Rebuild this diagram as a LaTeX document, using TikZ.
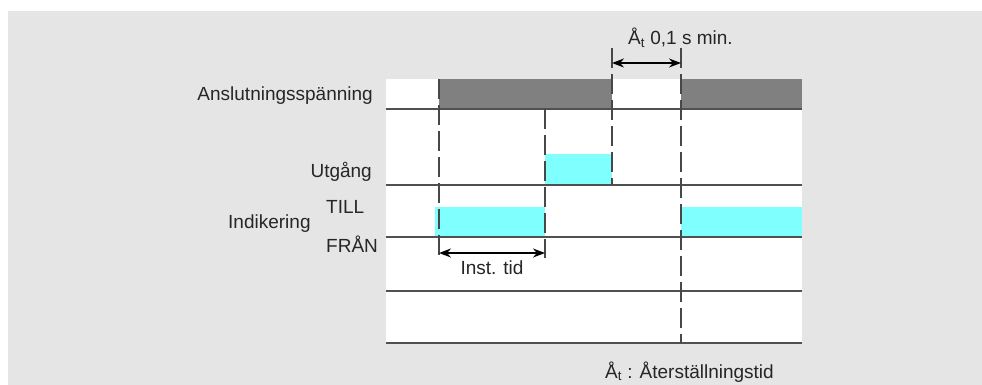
\documentclass[tikz,border=0pt]{standalone}
\usepackage{fontspec}
\setmainfont{Liberation Sans}
\usetikzlibrary{arrows.meta}
\definecolor{bggray}{HTML}{E5E5E5}
\definecolor{bargray}{HTML}{808080}
\definecolor{cyanfill}{HTML}{80FFFF}
\definecolor{linegray}{HTML}{505050}
\tikzset{
  lbl/.style={inner sep=0pt, font=\fontsize{19}{22}\selectfont, text=black!85},
  hline/.style={draw=linegray, line width=2pt},
  vdash/.style={draw=linegray!90!black, line width=2pt, dash pattern=on 20pt off 6pt},
  dimarrow/.style={draw=black, line width=1.6pt, {Stealth[length=12pt,width=9pt]}-{Stealth[length=12pt,width=9pt]}},
  ticksolid/.style={draw=linegray, line width=2pt}
}
\begin{document}
\begin{tikzpicture}[x=1pt,y=-1pt]
\useasboundingbox (0,0) rectangle (982,385);
% background
\fill[white] (0,0) rectangle (982,385);
\fill[bggray] (8,11) rectangle (982,385);
% white panel
\fill[white] (386,79) rectangle (802,343);
% dark bars (Anslutningsspänning)
\fill[bargray] (439,79) rectangle (612,109);
\fill[bargray] (681,79) rectangle (802,109);
% cyan bars
\fill[cyanfill] (545,154) rectangle (612,185);
\fill[cyanfill] (435,207) rectangle (545,237);
\fill[cyanfill] (681,207) rectangle (802,237);
% horizontal lines
\foreach \y in {109,185,237,291,343} \draw[hline] (386,\y) -- (802,\y);
% vertical lines
\coordinate (v1t) at (439,79);  \coordinate (v1b) at (439,258);
\coordinate (v2t) at (545,109); \coordinate (v2b) at (545,258);
\coordinate (v3t) at (612,48);  \coordinate (v3b) at (612,185);
\coordinate (v4t) at (681,48);  \coordinate (v4b) at (681,343);
\draw[vdash] (v1t) -- (v1b);
\draw[vdash] (v2t) -- (v2b);
\draw[vdash] (v3t) -- (v3b);
\draw[vdash] (v4t) -- (v4b);
% dimension arrows
\coordinate (d1a) at (612,63); \coordinate (d1b) at (681,63);
\draw[dimarrow] (d1a) -- (d1b);
\coordinate (d2a) at (439,253); \coordinate (d2b) at (545,253);
\draw[dimarrow] (d2a) -- (d2b);
% labels
\node[lbl, anchor=base east] (ansl) at (373,101) {Anslutningsspänning};
\node[lbl, anchor=base east] (utg) at (372,177) {Utgång};
\node[lbl, anchor=base west] (ind) at (228,228) {Indikering};
\node[lbl, anchor=base west] (till) at (326,213) {TILL};
\node[lbl, anchor=base west] (fran) at (326,252) {FRÅN};
\node[lbl, anchor=base] (inst) at (492,274) {Inst. tid};
\node[lbl, anchor=base west] (tmin) at (628,45) {Å\textsubscript{t} 0,1 s min.};
\node[lbl, anchor=base west] (legend) at (605,378) {Å\textsubscript{t} : Återställningstid};
\end{tikzpicture}
\end{document}
